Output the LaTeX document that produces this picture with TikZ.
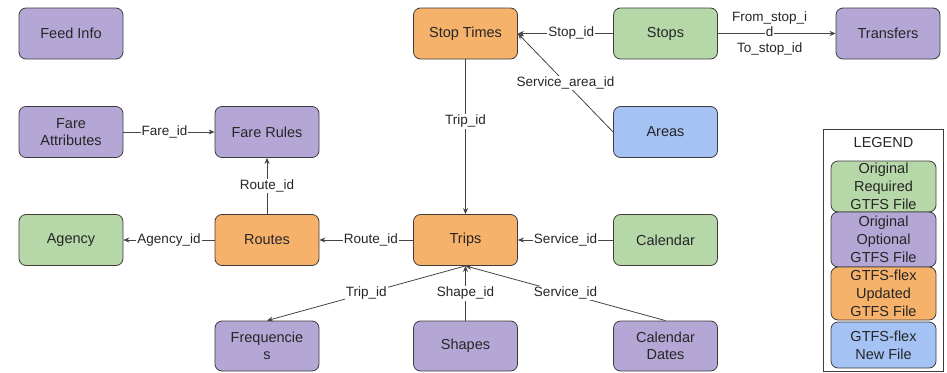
\documentclass[tikz,border=0pt]{standalone}
\usepackage{fontspec}
\setmainfont{Liberation Sans}
\usetikzlibrary{arrows.meta}
\definecolor{cpurple}{HTML}{B4A7D6}
\definecolor{cgreen}{HTML}{B6D7A8}
\definecolor{corange}{HTML}{F6B26B}
\definecolor{cblue}{HTML}{A4C2F4}
\definecolor{cborder}{HTML}{3C3C3C}
\definecolor{cline}{HTML}{444444}
\definecolor{ctext}{HTML}{262626}
\setlength\fboxsep{1pt}
\tikzset{
  filebox/.style={rounded corners=7pt, draw=cborder, line width=0.8pt,
    minimum width=104pt, minimum height=51pt, align=center, inner sep=0pt,
    text=ctext, font=\fontsize{14.5}{17}\selectfont},
  optfile/.style={filebox, fill=cpurple},
  reqfile/.style={filebox, fill=cgreen},
  updfile/.style={filebox, fill=corange},
  newfile/.style={filebox, fill=cblue},
  link/.style={draw=cline, line width=0.8pt, -{Stealth[length=6pt,width=5pt]}},
  plainlink/.style={draw=cline, line width=0.8pt},
  lbl/.style={fill=white, inner sep=1pt, text=ctext, align=center,
    font=\fontsize{13.5}{15}\selectfont},
  legitem/.style={filebox, minimum width=105pt, font=\fontsize{14.5}{18}\selectfont}
}
\begin{document}
\begin{tikzpicture}[x=1pt,y=-1pt]
\useasboundingbox (0,0) rectangle (947,372);
% nodes
\node[optfile] (feed) at (71,33.5) {Feed Info};
\node[optfile] (fareattr) at (71,132) {Fare\\Attributes};
\node[optfile] (farerules) at (267,132) {Fare Rules};
\node[updfile] (stoptimes) at (465.5,33.5) {Stop Times};
\node[reqfile] (stops) at (665.5,33.5) {Stops};
\node[optfile] (transfers) at (888,33.5) {Transfers};
\node[newfile] (areas) at (665.5,132) {Areas};
\node[reqfile] (agency) at (71,240) {Agency};
\node[updfile] (routes) at (267,240) {Routes};
\node[updfile] (trips) at (465.5,240) {Trips};
\node[reqfile] (calendar) at (665.5,240) {Calendar};
\node[optfile, minimum height=50pt] (freq) at (267,346) {Frequencie\\s};
\node[optfile, minimum height=50pt] (shapes) at (465.5,346) {Shapes};
\node[optfile, minimum height=50pt] (caldates) at (665.5,346) {Calendar\\Dates};
% connectors
\draw[link] (fareattr) -- node[lbl, pos=0.45] {Fare\_id} (farerules);
\draw[link] (routes) -- node[lbl] {Route\_id} (farerules);
\draw[link] (routes) -- node[lbl] {Agency\_id} (agency);
\draw[link] (trips) -- node[lbl, pos=0.45] {Route\_id} (routes);
\draw[link] (calendar) -- node[lbl] {Service\_id} (trips);
\draw[link] (stoptimes) -- node[lbl, pos=0.4] {Trip\_id} (trips);
\draw[link] (stops) -- node[lbl, pos=0.44] {Stop\_id} (stoptimes);
\draw[link] (areas.west) -- node[lbl] {Service\_area\_id} (stoptimes.east);
\draw[link] (stops) -- node[inner sep=0pt, text=ctext, align=center,
   font=\fontsize{13.5}{15.5}\selectfont, pos=0.44]
   {From\_stop\_i\\\colorbox{white}{d}\\To\_stop\_id} (transfers);
\draw[link] (trips.south) -- node[lbl] {Trip\_id} (freq.north);
\draw[link] (shapes.north) -- node[lbl] {Shape\_id} (trips.south);
\draw[link] (caldates.north) -- node[lbl] {Service\_id} (trips.south);
% legend
\node[draw=cborder, line width=0.8pt, minimum width=120pt, minimum height=242pt, inner sep=0pt] (legend) at (883,250) {};
\node[text=ctext, font=\fontsize{14.5}{17}\selectfont] (legtitle) at (883.5,143) {LEGEND};
\node[legitem, fill=cgreen, minimum height=51pt] (legreq) at (883.5,186.5) {Original\\Required\\GTFS File};
\node[legitem, fill=cpurple, minimum height=55pt] (legopt) at (883.5,239.5) {Original\\Optional\\GTFS File};
\node[legitem, fill=corange, minimum height=53pt] (legupd) at (883.5,293.5) {GTFS-flex\\Updated\\GTFS File};
\node[legitem, fill=cblue, minimum height=46pt] (legnew) at (883.5,345) {GTFS-flex\\New File};
\end{tikzpicture}
\end{document}
